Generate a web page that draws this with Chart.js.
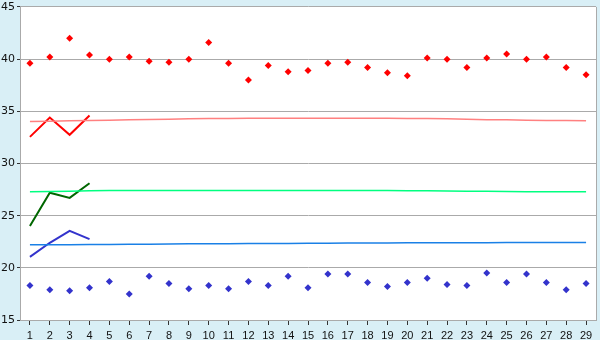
<!DOCTYPE html>
<html>
<head>
<meta charset="utf-8">
<script src="https://cdn.jsdelivr.net/npm/chart.js@4/dist/chart.umd.min.js"></script>
<style>
    html, body { margin: 0; padding: 0; background: #d9eff6; }
    #wrap { width: 600px; height: 340px; }
</style>
</head>
<body>
<div id="wrap"><canvas id="chart" width="600" height="340"></canvas></div>
<script>
// Categories 1..29
const labels = ['1','2','3','4','5','6','7','8','9','10','11','12','13','14','15',
    '16','17','18','19','20','21','22','23','24','25','26','27','28','29'];

// Scattered points
const redPoints = [39.6, 40.2, 42.0, 40.4, 40.0, 40.2, 39.8, 39.7, 40.0, 41.6,
    39.6, 38.0, 39.4, 38.8, 38.9, 39.6, 39.7, 39.2, 38.7, 38.4,
    40.1, 40.0, 39.2, 40.1, 40.5, 40.0, 40.2, 39.2, 38.5];
const bluePoints = [18.3, 17.9, 17.8, 18.1, 18.7, 17.5, 19.2, 18.5, 18.0, 18.3,
    18.0, 18.7, 18.3, 19.2, 18.1, 19.4, 19.4, 18.6, 18.2, 18.6,
    19.0, 18.4, 18.3, 19.5, 18.6, 19.4, 18.6, 17.9, 18.5];

// Short lines (first four categories)
const redLine = [32.55, 34.4, 32.75, 34.6];
const greenLine = [24.0, 27.2, 26.7, 28.1];
const blueLine = [21.05, 22.4, 23.55, 22.75];

// Nearly flat reference lines
const redRef = [34.02, 34.05, 34.1, 34.12, 34.15, 34.2, 34.22, 34.25, 34.28, 34.3,
    34.32, 34.33, 34.33, 34.33, 34.33, 34.33, 34.33, 34.33, 34.33, 34.32,
    34.3, 34.28, 34.25, 34.2, 34.18, 34.15, 34.12, 34.11, 34.1];
const greenRef = [27.3, 27.32, 27.35, 27.38, 27.4, 27.41, 27.41, 27.41, 27.41, 27.41,
    27.41, 27.41, 27.41, 27.41, 27.41, 27.41, 27.41, 27.41, 27.4, 27.39,
    27.38, 27.37, 27.35, 27.33, 27.31, 27.3, 27.29, 27.29, 27.29];
const blueRef = [22.2, 22.21, 22.22, 22.23, 22.24, 22.25, 22.27, 22.28, 22.3, 22.3,
    22.31, 22.32, 22.33, 22.34, 22.35, 22.36, 22.37, 22.38, 22.39, 22.4,
    22.4, 22.41, 22.41, 22.41, 22.42, 22.42, 22.42, 22.42, 22.42];

const yTicks = [15, 20, 25, 30, 35, 40, 45];

const frame = {
    id: 'frame',
    beforeDraw(chart) {
        const { ctx, chartArea: a } = chart;
        ctx.save();
        ctx.fillStyle = '#d9eff6';
        ctx.fillRect(0, 0, chart.width, chart.height);
        ctx.fillStyle = '#ffffff';
        ctx.fillRect(a.left, a.top, a.right - a.left, a.bottom - a.top);
        ctx.restore();
    },
    afterDatasetsDraw(chart) {
        const { ctx, chartArea: a } = chart;
        ctx.save();
        ctx.strokeStyle = '#aaaaaa';
        ctx.lineWidth = 1;
        ctx.beginPath();
        ctx.moveTo(Math.round(a.right) + 0.5, a.top);
        ctx.lineTo(Math.round(a.right) + 0.5, a.bottom);
        ctx.stroke();
        ctx.restore();
    }
};

function lineSet(data, color, width) {
    return {
        type: 'line',
        data: data,
        borderColor: color,
        borderWidth: width,
        pointRadius: 0,
        fill: false,
        tension: 0
    };
}

function pointSet(data, color) {
    return {
        type: 'line',
        data: data,
        showLine: false,
        pointStyle: 'rectRot',
        pointRadius: 3.5,
        pointBackgroundColor: color,
        pointBorderColor: color,
        pointBorderWidth: 0
    };
}

new Chart(document.getElementById('chart').getContext('2d'), {
    type: 'line',
    data: {
        labels: labels,
        datasets: [
            lineSet(redRef, '#ff8080', 1.5),
            lineSet(greenRef, '#00ff80', 1.5),
            lineSet(blueRef, '#1a80e6', 1.5),
            lineSet(redLine, '#ff0000', 2),
            lineSet(greenLine, '#006600', 2),
            lineSet(blueLine, '#3333cc', 2),
            pointSet(redPoints, '#ff0000'),
            pointSet(bluePoints, '#3333cc')
        ]
    },
    options: {
        responsive: false,
        animation: false,
        layout: { padding: { top: 0, right: 4, left: 0, bottom: 0 } },
        plugins: {
            legend: { display: false },
            tooltip: { enabled: false }
        },
        scales: {
            x: {
                type: 'category',
                offset: true,
                grid: {
                    drawOnChartArea: false,
                    drawTicks: true,
                    tickLength: 5,
                    color: '#333333',
                    offset: false
                },
                border: { color: '#aaaaaa' },
                ticks: {
                    color: '#111111',
                    padding: 4,
                    maxRotation: 0,
                    autoSkip: false,
                    font: { family: 'Liberation Sans', size: 11 }
                },
                afterFit(scale) { scale.height = 20; }
            },
            y: {
                min: 15,
                max: 45,
                afterBuildTicks(scale) {
                    scale.ticks = yTicks.map(v => ({ value: v }));
                },
                grid: {
                    color: '#aaaaaa',
                    drawTicks: true,
                    tickLength: 3,
                    tickColor: '#333333'
                },
                border: { color: '#aaaaaa' },
                ticks: {
                    color: '#111111',
                    padding: 2,
                    font: { family: 'DejaVu Sans', size: 11, lineHeight: 0.9 }
                },
                afterFit(scale) { scale.width = 20; }
            }
        }
    },
    plugins: [frame]
});
</script>
</body>
</html>
